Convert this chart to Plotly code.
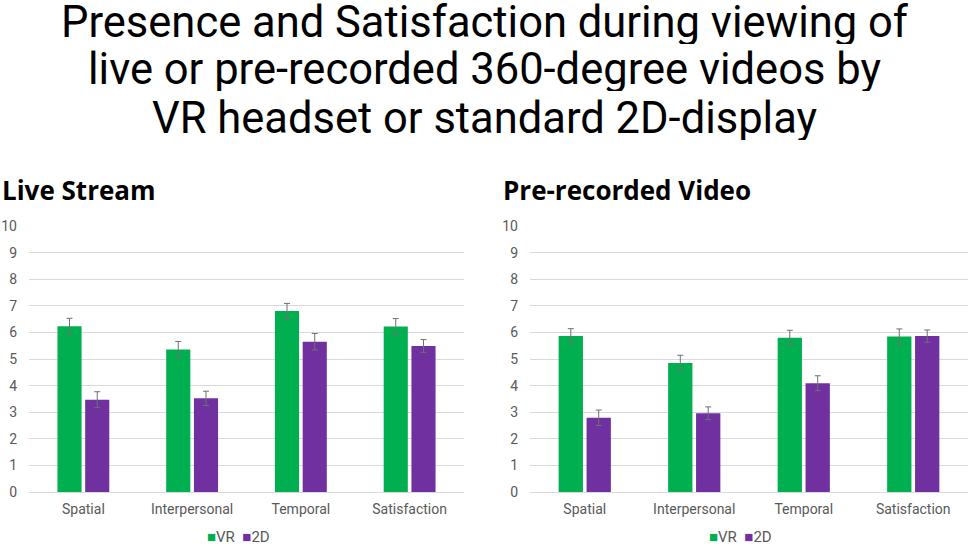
import plotly.graph_objects as go

categories = ["Spatial", "Interpersonal", "Temporal", "Satisfaction"]
series_names = ["VR", "2D"]
live_vr = [6.23, 5.36, 6.80, 6.22]
live_vr_err = [0.30, 0.30, 0.29, 0.30]
live_2d = [3.47, 3.52, 5.65, 5.49]
live_2d_err = [0.30, 0.27, 0.31, 0.24]
pre_vr = [5.86, 4.85, 5.80, 5.85]
pre_vr_err = [0.28, 0.29, 0.28, 0.28]
pre_2d = [2.79, 2.96, 4.09, 5.86]
pre_2d_err = [0.29, 0.24, 0.28, 0.23]
y_ticks = list(range(0, 11))

GREEN = "#00B050"
PURPLE = "#7030A0"
ERR = "#707070"
TXT = "#595959"
W, H = 969, 546

fig = go.Figure()

def add(x_ax, y_ax, vals, errs, name, color):
    fig.add_trace(go.Bar(
        x=categories, y=vals, name=name, marker=dict(color=color, line=dict(width=0)),
        error_y=dict(type="data", array=errs, visible=True, color=ERR, thickness=1, width=3),
        xaxis=x_ax, yaxis=y_ax, showlegend=False,
    ))

add("x", "y", live_vr, live_vr_err, series_names[0], GREEN)
add("x", "y", live_2d, live_2d_err, series_names[1], PURPLE)
add("x2", "y2", pre_vr, pre_vr_err, series_names[0], GREEN)
add("x2", "y2", pre_2d, pre_2d_err, series_names[1], PURPLE)

ydom = [1 - 492 / H, 1 - 226 / H]
axis_font = dict(family="Roboto, Noto Sans, sans-serif", size=14, color=TXT)
yaxis_common = dict(range=[0, 10], tickvals=y_ticks, showgrid=True, gridcolor="#D9D9D9",
                    gridwidth=1, zeroline=False, showline=False, ticks="",
                    ticklabelstandoff=11, automargin=False,
                    tickfont=axis_font, domain=ydom, fixedrange=True)
xaxis_common = dict(showline=True, linecolor="#D9D9D9", linewidth=1, ticks="",
                    ticklabelstandoff=4, automargin=False,
                    tickfont=axis_font, showgrid=False, fixedrange=True)

fig.update_layout(
    width=W, height=H,
    margin=dict(l=0, r=0, t=0, b=0),
    paper_bgcolor="white", plot_bgcolor="white",
    barmode="group", bargap=0.49, bargroupgap=0.13,
    xaxis=dict(domain=[29 / W, 464 / W], anchor="y", **xaxis_common),
    yaxis=dict(anchor="x", **yaxis_common),
    xaxis2=dict(domain=[530 / W, 968 / W], anchor="y2", **xaxis_common),
    yaxis2=dict(anchor="x2", **yaxis_common),
    showlegend=False,
)

title_lines = ["Presence and Satisfaction during viewing of",
               "live or pre-recorded 360-degree videos by",
               "VR headset or standard 2D-display"]
title_y = [22, 69, 118]
for line, ty in zip(title_lines, title_y):
    fig.add_annotation(text=line, x=485 / W, y=1 - ty / H, xref="paper", yref="paper",
                       xanchor="center", yanchor="middle", showarrow=False, height=44,
                       font=dict(family="Roboto, sans-serif", size=43.5, color="black"))

sub_font = dict(family="Open Sans, Roboto, sans-serif", size=26, color="black")
fig.add_annotation(text="<b>Live Stream</b>", x=0 / W, y=1 - 190 / H, xref="paper", yref="paper",
                   xanchor="left", yanchor="middle", showarrow=False, font=sub_font)
fig.add_annotation(text="<b>Pre-recorded Video</b>", x=501 / W, y=1 - 190 / H, xref="paper", yref="paper",
                   xanchor="left", yanchor="middle", showarrow=False, font=sub_font)

legend_text = (f"<span style='color:{GREEN}'>■</span>{series_names[0]}&nbsp;&nbsp;"
               f"<span style='color:{PURPLE}'>■</span>{series_names[1]}")
for cx in (238, 740):
    fig.add_annotation(text=legend_text, x=cx / W, y=1 - 537 / H, xref="paper", yref="paper",
                       xanchor="center", yanchor="middle", showarrow=False,
                       font=dict(family="Roboto, sans-serif", size=15, color=TXT))

fig.write_html("out.html", config={"displayModeBar": False},
               post_script="document.body.style.margin='0';document.body.style.overflow='hidden';")
